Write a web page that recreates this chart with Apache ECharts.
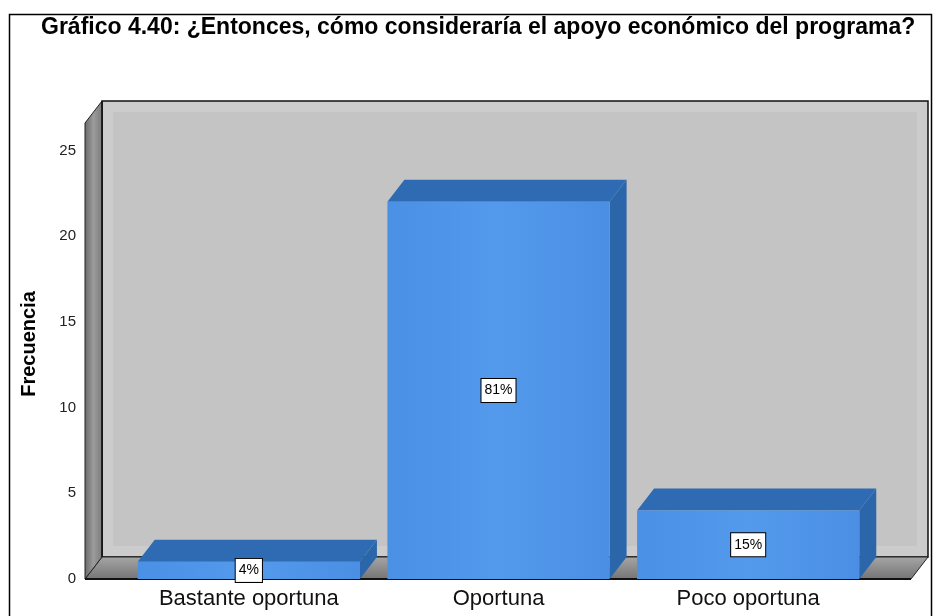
<!DOCTYPE html>
<html>
<head>
<meta charset="UTF-8">
<title>Gráfico 4.40</title>
<script src="https://cdn.jsdelivr.net/npm/echarts@6/dist/echarts.min.js"></script>
<style>
html, body { margin: 0; padding: 0; width: 100%; height: 100%; overflow: hidden; background: #fff; }
#main { width: 937px; height: 616px; }
</style>
</head>
<body>
<div id="main"></div>
<script>
var categorias = ['Bastante oportuna', 'Oportuna', 'Poco oportuna'];
var frecuencias = [1, 22, 4];
var ticksY = [0, 5, 10, 15, 20, 25];

var total = frecuencias.reduce(function (a, b) { return a + b; }, 0);
var DX = 17, DY = -22; // profundidad del efecto 3D
var PAD_L = 39, PAD_R = 38;

var chart = echarts.init(document.getElementById('main'));

// paredes y piso de la caja 3D
function paredes(params, api) {
  var cs = params.coordSys;
  var x0 = cs.x - PAD_L, x1 = cs.x + cs.width + PAD_R;
  var yt = cs.y, yb = cs.y + cs.height;
  return {
    type: 'group',
    children: [
      {
        type: 'rect',
        shape: { x: x0 + DX, y: yt + DY, width: x1 - x0, height: yb - yt },
        style: { fill: '#c4c4c4', stroke: '#111', lineWidth: 1.5 }
      },
      {
        type: 'rect',
        shape: { x: x0 + DX + 6, y: yt + DY + 6, width: x1 - x0 - 12, height: yb - yt - 12 },
        style: { fill: 'none', stroke: 'rgba(255,255,255,0.15)', lineWidth: 10 }
      },
      {
        type: 'polygon',
        shape: { points: [[x0, yb], [x1, yb], [x1 + DX, yb + DY], [x0 + DX, yb + DY]] },
        style: {
          fill: { type: 'linear', x: 0, y: 0, x2: 0, y2: 1, colorStops: [
            { offset: 0, color: '#a6a6a6' }, { offset: 1, color: '#747474' }] },
          stroke: '#222', lineWidth: 1
        }
      },
      {
        type: 'polygon',
        shape: { points: [[x0, yt], [x0 + DX, yt + DY], [x0 + DX, yb + DY], [x0, yb]] },
        style: {
          fill: { type: 'linear', x: 0, y: 0, x2: 1, y2: 0, colorStops: [
            { offset: 0, color: '#686868' }, { offset: 0.5, color: '#9c9c9c' }, { offset: 1, color: '#7a7a7a' }] },
          stroke: '#222', lineWidth: 1
        }
      },
      {
        type: 'line',
        shape: { x1: x0, y1: yb, x2: x1, y2: yb },
        style: { stroke: '#111', lineWidth: 2 }
      },
      {
        type: 'line',
        shape: { x1: x0 + DX, y1: yt + DY, x2: x0 + DX, y2: yb + DY },
        style: { stroke: '#111', lineWidth: 1.5 }
      }
    ]
  };
}

function barras(params, api) {
  var v = api.value(1);
  var top = api.coord([api.value(0), v]);
  var base = api.coord([api.value(0), 0]);
  var w = api.size([1, 0])[0] * 0.89;
  var xl = top[0] - w / 2, xr = top[0] + w / 2;
  var yt = top[1], yb = base[1];
  var pct = Math.round(v / total * 100) + '%';
  return {
    type: 'group',
    children: [
      {
        type: 'polygon',
        shape: { points: [[xr, yt], [xr + DX, yt + DY], [xr + DX, yb + DY], [xr, yb]] },
        style: { fill: '#2b66ab' }
      },
      {
        type: 'polygon',
        shape: { points: [[xl, yt], [xr, yt], [xr + DX, yt + DY], [xl + DX, yt + DY]] },
        style: { fill: '#2e6bb2' }
      },
      {
        type: 'rect',
        shape: { x: xl, y: yt, width: w, height: yb - yt },
        style: {
          fill: { type: 'linear', x: 0, y: 0, x2: 1, y2: 0, colorStops: [
            { offset: 0, color: '#4a91e6' }, { offset: 0.5, color: '#5399ec' }, { offset: 1, color: '#4a8fe3' }] }
        }
      },
      {
        type: 'text',
        style: {
          text: pct, x: top[0], y: (yt + yb) / 2,
          align: 'center', verticalAlign: 'middle',
          font: '14px "Liberation Sans", Arial, sans-serif', fill: '#000',
          backgroundColor: '#fff', borderColor: '#000', borderWidth: 1,
          padding: [5, 3, 4, 3]
        }
      }
    ]
  };
}

var option = {
  animation: false,
  textStyle: { fontFamily: '"Liberation Sans", Arial, sans-serif' },
  title: {
    text: 'Gráfico 4.40: ¿Entonces, cómo consideraría el apoyo económico del programa?',
    left: 36, top: 11,
    textStyle: { fontSize: 23, fontWeight: 'bold', color: '#000' }
  },
  graphic: [{
    type: 'rect', left: 7, top: 12, z: -10,
    shape: { width: 922, height: 620 },
    style: { fill: 'none', stroke: '#000', lineWidth: 1.5 }
  }],
  grid: { left: 124, right: 64, top: 123, bottom: 37 },
  xAxis: {
    type: 'category',
    data: categorias,
    axisLine: { show: false },
    axisTick: { show: false },
    axisLabel: { fontSize: 22, color: '#111', margin: 9 }
  },
  yAxis: {
    type: 'value',
    min: ticksY[0], max: 26.6, interval: ticksY[1] - ticksY[0],
    offset: PAD_L,
    name: 'Frecuencia', nameLocation: 'middle', nameGap: 46,
    nameTextStyle: { fontSize: 20, fontWeight: 'bold', color: '#000', padding: [0, 0, 0, 14] },
    axisLine: { show: false },
    axisTick: { show: false },
    splitLine: { show: false },
    axisLabel: {
      showMaxLabel: false, fontSize: 15, color: '#222', margin: 9,
      formatter: function (val) { return ticksY.indexOf(val) >= 0 ? String(val) : ''; }
    }
  },
  series: [
    {
      type: 'custom', renderItem: paredes, data: [[0, 0]], z: 1, silent: true
    },
    {
      type: 'custom', renderItem: barras, z: 2,
      data: frecuencias.map(function (f, i) { return [i, f]; })
    }
  ]
};

chart.setOption(option);
</script>
</body>
</html>
